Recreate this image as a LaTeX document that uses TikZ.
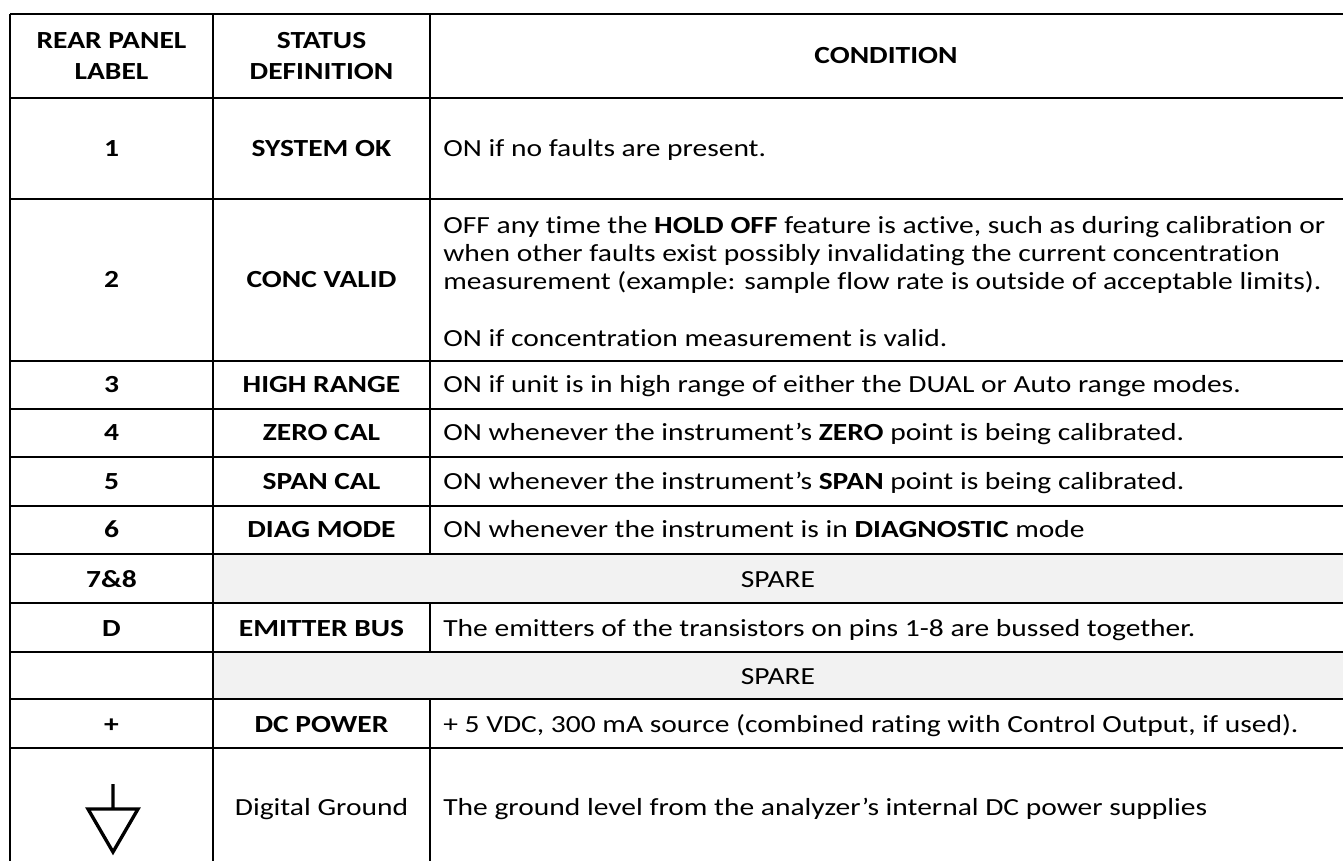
\documentclass[tikz,border=0pt]{standalone}
\usepackage{fontspec}
\setmainfont{Carlito}[FakeStretch=1.2, Ligatures=NoCommon]
\usepackage{tikz}
\usetikzlibrary{positioning}

\definecolor{sparegray}{RGB}{242,242,242}

\begin{document}
\begin{tikzpicture}[x=0.02cm, y=-0.02cm,
      every node/.style={inner sep=0pt, font=\fontsize{14}{17.6}\selectfont},
      head/.style={align=center, font=\fontsize{14}{17.6}\selectfont\bfseries},
      lbl/.style={anchor=base, font=\fontsize{14}{17.6}\selectfont\bfseries},
      cond/.style={anchor=base west},
      grid/.style={line width=1.6pt},
      thingrid/.style={line width=1.1pt}]
      \useasboundingbox (0, 0) rectangle (1343, 861);
      \clip (0, 0) rectangle (1343, 861);
      % spare rows
      \fill [sparegray] (213, 554) rectangle (1343, 603)
                        (213, 652) rectangle (1343, 699);
      % rules
      \draw [grid] (10, 14) -- (1343, 14)
            (10, 98) -- (1343, 98)
            (10, 199) -- (1343, 199)
            (10, 361) -- (1343, 361)
            (10, 409) -- (1343, 409)
            (10, 457) -- (1343, 457)
            (10, 506) -- (1343, 506)
            (10, 554) -- (1343, 554)
            (10, 748) -- (1343, 748)
            (10, 14) -- (10, 861)
            (213, 14) -- (213, 861)
            (430, 14) -- (430, 554)
            (430, 699) -- (430, 861);
      \draw [thingrid] (10, 603) -- (1343, 603)
            (10, 652) -- (1343, 652)
            (10, 699) -- (1343, 699)
            (430, 603) -- (430, 652);
      % header
      \draw (111.5, 56) node (hpanel) [head] {REAR PANEL\\LABEL}
            (321.5, 56) node (hstatus) [head] {STATUS\\DEFINITION}
            (886, 56) node (hcond) [head] {CONDITION};
      % rear panel labels
      \draw (111.5, 157) node (p1) [lbl] {1}
            (111.5, 288) node (p2) [lbl] {2}
            (111.5, 393) node (p3) [lbl] {3}
            (111.5, 441) node (p4) [lbl] {4}
            (111.5, 490) node (p5) [lbl] {5}
            (111.5, 538) node (p6) [lbl] {6}
            (111.5, 587) node (p78) [lbl] {7\&8}
            (111.5, 636) node (pd) [lbl] {D}
            (111.5, 732) node (pplus) [lbl] {+};
      % ground symbol
      \draw [line width=1.9pt] (113, 784) -- (113, 809)
            (88, 809) -- (138, 809) -- (113, 852) -- cycle;
      % status definitions
      \draw (321.5, 157) node (s1) [lbl] {SYSTEM OK}
            (321.5, 288) node (s2) [lbl] {CONC VALID}
            (321.5, 393) node (s3) [lbl] {HIGH RANGE}
            (321.5, 441) node (s4) [lbl] {ZERO CAL}
            (321.5, 490) node (s5) [lbl] {SPAN CAL}
            (321.5, 538) node (s6) [lbl] {DIAG MODE}
            (321.5, 636) node (sd) [lbl] {EMITTER BUS}
            (321.5, 732) node (splus) [lbl] {DC POWER}
            (321.5, 815) node (sgnd) [anchor=base] {Digital Ground};
      % conditions
      \draw (443, 157) node (c1) [cond] {ON if no faults are present.}
            (443, 234) node (c2a) [cond] {OFF any time the \textbf{HOLD OFF} feature is active, such as during calibration or}
            (443, 262) node (c2b) [cond] {when other faults exist possibly invalidating the current concentration}
            (443, 290) node (c2c) [cond] {measurement (example: sample flow rate is outside of acceptable limits).}
            (443, 347) node (c2d) [cond] {ON if concentration measurement is valid.}
            (443, 393) node (c3) [cond] {ON if unit is in high range of either the DUAL or Auto range modes.}
            (443, 441) node (c4) [cond] {ON whenever the instrument’s \textbf{ZERO} point is being calibrated.}
            (443, 490) node (c5) [cond] {ON whenever the instrument’s \textbf{SPAN} point is being calibrated.}
            (443, 538) node (c6) [cond] {ON whenever the instrument is in \textbf{DIAGNOSTIC} mode}
            (778, 587) node (c78) [anchor=base] {SPARE}
            (443, 636) node (cd) [cond] {The emitters of the transistors on pins 1-8 are bussed together.}
            (778, 684) node (cspare) [anchor=base] {SPARE}
            (443, 732) node (cplus) [cond] {+ 5 VDC, 300 mA source (combined rating with Control Output, if used).}
            (443, 815) node (cgnd) [cond] {The ground level from the analyzer’s internal DC power supplies};
\end{tikzpicture}
\end{document}
